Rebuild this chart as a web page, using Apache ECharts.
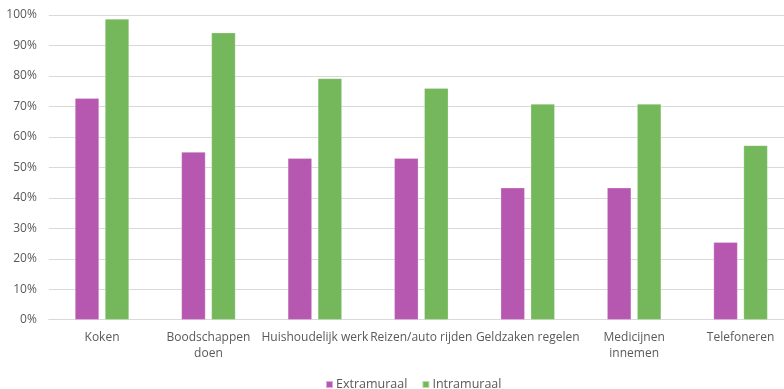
<!DOCTYPE html>
<html>
<head>
<meta charset="utf-8">
<script src="https://cdn.jsdelivr.net/npm/echarts@6/dist/echarts.min.js"></script>
<style>
  html, body { margin: 0; padding: 0; background: #fff; }
  #chart { width: 784px; height: 389px; }
</style>
</head>
<body>
<div id="chart"></div>
<script>
// Activities of daily living, share of people needing help
const categories = ['Koken', 'Boodschappen\ndoen', 'Huishoudelijk werk', 'Reizen/auto rijden', 'Geldzaken regelen', 'Medicijnen\ninnemen', 'Telefoneren'];
const extramuraal = [72.7, 55.0, 53.0, 53.0, 43.3, 43.3, 25.4];
const intramuraal = [98.7, 94.2, 79.2, 76.0, 70.8, 70.8, 57.2];
const seriesNames = ['Extramuraal', 'Intramuraal'];
const colors = ['#B658B0', '#74B85B'];

const chart = echarts.init(document.getElementById('chart'));
const font = 'Open Sans, Noto Sans, sans-serif';
const textColor = '#595959';

chart.setOption({
  animation: false,
  color: colors,
  textStyle: { fontFamily: font },
  legend: {
    data: seriesNames,
    top: 373,
    left: 320,
    icon: 'rect',
    itemWidth: 7,
    itemHeight: 7,
    itemGap: 14,
    textStyle: { color: textColor, fontSize: 12.5, fontFamily: font, padding: [0, 0, 0, -2] }
  },
  grid: {
    left: 48.8,
    top: 15,
    right: -9.8,
    height: 304.7,
    containLabel: false,
    outerBoundsMode: 'none'
  },
  xAxis: {
    type: 'category',
    data: categories,
    axisTick: { show: false },
    axisLine: { lineStyle: { color: '#d9d9d9', width: 1 } },
    axisLabel: { color: textColor, fontSize: 12, fontFamily: font, margin: 10, lineHeight: 16, interval: 0 }
  },
  yAxis: {
    type: 'value',
    min: 0,
    max: 100,
    interval: 10,
    axisLine: { show: false },
    axisTick: { show: false },
    splitLine: { lineStyle: { color: '#d9d9d9', width: 1 } },
    axisLabel: { color: textColor, fontSize: 12, fontFamily: font, margin: 12, formatter: '{value}%' }
  },
  series: [
    {
      name: seriesNames[0],
      type: 'bar',
      data: extramuraal,
      barWidth: 24,
      barGap: '25%',
      itemStyle: { borderColor: 'rgba(255,255,255,0.5)', borderWidth: 0.5 }
    },
    {
      name: seriesNames[1],
      type: 'bar',
      data: intramuraal,
      barWidth: 24,
      barGap: '25%',
      itemStyle: { borderColor: 'rgba(255,255,255,0.5)', borderWidth: 0.5 }
    }
  ]
});
</script>
</body>
</html>
